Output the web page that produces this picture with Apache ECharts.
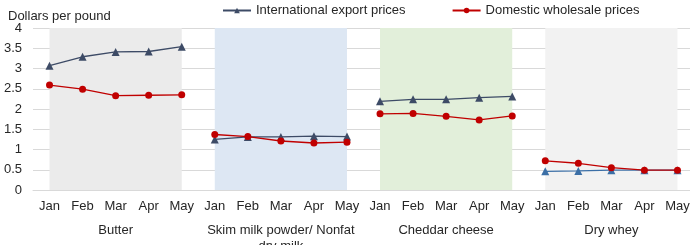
<!DOCTYPE html>
<html><head><meta charset="utf-8">
<script src="https://cdn.jsdelivr.net/npm/echarts@6/dist/echarts.min.js"></script>
<style>html,body{margin:0;padding:0;background:#fff}#c{width:690px;height:245px}</style>
</head><body><div id="c"></div>
<script>
const months = ['Jan','Feb','Mar','Apr','May'];
const groups = ['Butter','Skim milk powder/ Nonfat\ndry milk','Cheddar cheese','Dry whey'];
const yTicks = [0,0.5,1,1.5,2,2.5,3,3.5,4];
const seriesNames = ['International export prices','Domestic wholesale prices'];
const intlButter = [3.07,3.29,3.41,3.42,3.54];
const intlSkim = [1.25,1.31,1.31,1.33,1.32];
const intlCheddar = [2.19,2.24,2.24,2.28,2.31];
const intlWhey = [0.46,0.47,0.49,0.49,0.49];
const domButter = [2.59,2.49,2.33,2.34,2.35];
const domSkim = [1.37,1.32,1.21,1.16,1.18];
const domCheddar = [1.88,1.89,1.82,1.73,1.83];
const domWhey = [0.72,0.66,0.55,0.49,0.49];

const intl = [intlButter,intlSkim,intlCheddar,intlWhey];
const dom = [domButter,domSkim,domCheddar,domWhey];
const bandColors = ['#ebebeb','#dde7f3','#e2efda','#f2f2f2'];
const intlColors = ['#3d4b66','#3d4b66','#3d4b66','#3b6fa6'];
const categories = [];
groups.forEach(()=>months.forEach(m=>categories.push(m)));

function padded(arr, g){
  const out = new Array(categories.length).fill('-');
  arr.forEach((v,i)=>{ out[g*5+i]=v; });
  return out;
}
const font = 'Liberation Sans, Arial, sans-serif';
const series = [];
series.push({
  type:'line', data:[], silent:true, xAxisIndex:0,
  markArea:{silent:true, data: groups.map((g,i)=>[
    {xAxis:i*5, yAxis:0, itemStyle:{color:bandColors[i]}},
    {xAxis:i*5+4, yAxis:4}
  ])}
});
const red='#c00000';
groups.forEach((g,i)=>{
  const c = intlColors[i];
  series.push({name:seriesNames[0], type:'line', data:padded(intl[i],i),
    symbol:'triangle', symbolSize:8, itemStyle:{color:c}, lineStyle:{width:1.3,color:c}, z:3});
  series.push({name:seriesNames[1], type:'line', data:padded(dom[i],i),
    symbol:'circle', symbolSize:7, itemStyle:{color:red}, lineStyle:{width:1.3,color:red}, z:4});
});

const chart = echarts.init(document.getElementById('c'), null, {renderer:'canvas'});
chart.setOption({
  animation:false,
  color:['#3d4b66', red],
  textStyle:{fontFamily:font},
  title:{text:'Dollars per pound', left:3, top:5, textStyle:{fontFamily:font,fontSize:13,fontWeight:'normal',color:'#262626'}},
  legend:{data:seriesNames, left:217, top:-1, itemWidth:28, itemHeight:7, itemGap:46,
    textStyle:{fontFamily:font,fontSize:13,color:'#262626'}},
  grid:{left:33, top:28, width:661, height:162, containLabel:false, outerBoundsMode:'none'},
  xAxis:[
    {type:'category', data:categories, boundaryGap:true, axisTick:{show:false},
     axisLine:{show:true, lineStyle:{color:'#d9d9d9'}},
     axisLabel:{interval:0, margin:10, fontSize:13, color:'#262626', fontFamily:font}},
    {type:'category', data:groups, position:'bottom', offset:22, boundaryGap:true,
     axisTick:{show:false}, axisLine:{show:false},
     axisLabel:{interval:0, margin:10, fontSize:13, lineHeight:16, color:'#262626', fontFamily:font}}
  ],
  yAxis:{type:'value', min:0, max:4, interval:0.5,
    axisLine:{show:false}, axisTick:{show:false},
    splitLine:{lineStyle:{color:'#d9d9d9', width:1}},
    axisLabel:{fontSize:13, color:'#262626', margin:11, fontFamily:font,
      formatter:v=>String(v)}},
  series
});
</script></body></html>
